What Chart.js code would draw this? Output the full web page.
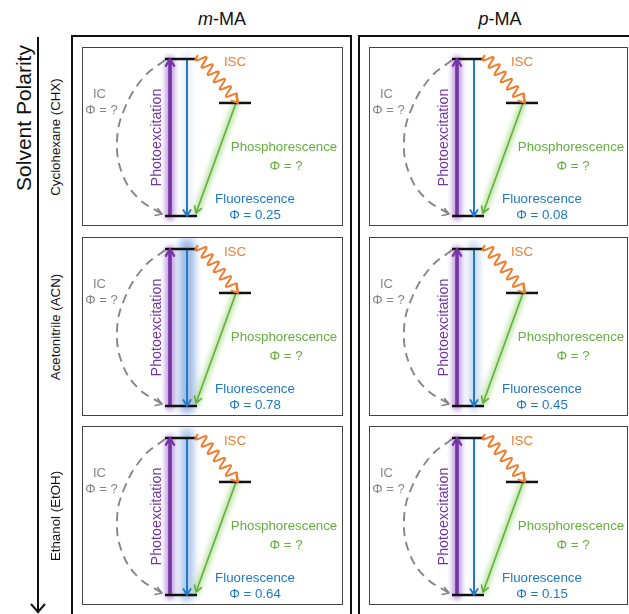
<!DOCTYPE html>
<html>
<head>
<meta charset="utf-8">
<script src="https://cdn.jsdelivr.net/npm/chart.js@4.4.0/dist/chart.umd.min.js"></script>
<style>
  body { margin: 0; width: 629px; height: 614px; overflow: hidden; background: #fff;
         font-family: "Liberation Sans", Arial, sans-serif; position: relative; }
  .abs { position: absolute; }
  .title { font-size: 18px; top: 9px; width: 120px; text-align: center; color: #111; }
  .rot { transform: translate(-50%, -50%) rotate(-90deg); white-space: nowrap; color: #111; }
  .outer { border: 2px solid #111; box-sizing: border-box; }
  .frame { border: 1.5px solid #444; box-sizing: border-box; pointer-events: none; }
  canvas { position: absolute; }
</style>
</head>
<body>
<div class="abs title" style="left:162px"><i>m</i>-MA</div>
<div class="abs title" style="left:440px"><i>p</i>-MA</div>
<div class="abs rot" style="left:24px; top:118px; font-size:21px">Solvent Polarity</div>
<svg class="abs" style="left:0; top:0" width="60" height="614">
  <line x1="38" y1="37" x2="38" y2="613" stroke="#111" stroke-width="2"/>
  <polyline points="31,604 38,612 45,604" fill="none" stroke="#111" stroke-width="2"/>
</svg>
<div class="abs outer" style="left:71px; top:35px; width:281px; height:600px"></div>
<div class="abs outer" style="left:358px; top:35px; width:300px; height:600px"></div>

<script>
// ---- data ----
const molecules = ['m-MA', 'p-MA'];
const solvents = ['Cyclohexane (CHX)', 'Acetonitrile (ACN)', 'Ethanol (EtOH)'];
const levelNames = ['S0', 'S1', 'T1'];
const levelEnergies = [0, 1, 0.72];
const fluorYieldM = [0.25, 0.78, 0.64];
const fluorYieldP = [0.08, 0.45, 0.15];
const yields = [fluorYieldM, fluorYieldP];

// ---- layout (panel pixels) ----
const PANEL_X = [82, 369], PANEL_W = [261, 259];
const PANEL_Y = [47, 237, 426], PANEL_H = 179;
const Y_S0 = 169, Y_S1 = 12;            // pixel rows of S0 / S1 inside a panel
const SX = [83, 115], TX = [137, 169];  // level line extents
const PHOTO_X = 88, FLUOR_X = 105;
const PHOS_X = [154, 114], PHOS_END_Y = 166;
const IC_PTS = [[83, 13], [61, 31], [42, 63], [35, 94], [40, 126], [56, 151], [80, 167]];

const PURPLE = '#7434a2', BLUE = '#1f78c8', GREEN = '#63ae3d', ORANGE = '#f07c2e', GRAY = '#858585';
const FONT = '"Liberation Sans", Arial, sans-serif';

function head(ctx, x, y, ang, size, color, width) {
  ctx.save();
  ctx.strokeStyle = color; ctx.lineWidth = width; ctx.lineCap = 'round'; ctx.lineJoin = 'round';
  ctx.beginPath();
  ctx.moveTo(x - size * Math.cos(ang - 0.55), y - size * Math.sin(ang - 0.55));
  ctx.lineTo(x, y);
  ctx.lineTo(x - size * Math.cos(ang + 0.55), y - size * Math.sin(ang + 0.55));
  ctx.stroke();
  ctx.restore();
}

function glow(ctx, a, b, color, width, blur) {
  ctx.save();
  ctx.filter = 'blur(' + blur + 'px)';
  ctx.strokeStyle = color; ctx.lineWidth = width; ctx.lineCap = 'round';
  ctx.beginPath(); ctx.moveTo(a[0], a[1]); ctx.lineTo(b[0], b[1]); ctx.stroke();
  ctx.restore();
}

function text(ctx, s, x, y, color, size) {
  ctx.fillStyle = color; ctx.font = size + 'px ' + FONT;
  ctx.textAlign = 'center'; ctx.textBaseline = 'middle';
  ctx.fillText(s, x, y);
}

function makePanel(col, row) {
  const w = PANEL_W[col], phi = yields[col][row];
  const cv = document.createElement('canvas');
  cv.width = w; cv.height = PANEL_H;
  cv.style.left = PANEL_X[col] + 'px'; cv.style.top = PANEL_Y[row] + 'px';
  cv.style.width = w + 'px'; cv.style.height = PANEL_H + 'px';
  document.body.appendChild(cv);
  const fr = document.createElement('div');
  fr.className = 'abs frame';
  fr.style.cssText = 'left:' + PANEL_X[col] + 'px;top:' + PANEL_Y[row] + 'px;width:' + w + 'px;height:' + PANEL_H + 'px';
  document.body.appendChild(fr);

  const perE = Y_S0 - Y_S1;
  const e = py => (Y_S0 - py) / perE;
  const [S0, S1, T1] = levelEnergies;
  const pt = p => ({ x: p[0], y: p[1] });
  const line = (pts, color, width, extra) => Object.assign({
    data: pts.map(pt), showLine: true, borderColor: color, borderWidth: width,
    pointRadius: 0, fill: false, tension: 0, borderCapStyle: 'butt'
  }, extra || {});

  const deco = {
    id: 'deco',
    beforeDatasetsDraw(chart) {
      const ctx = chart.ctx, xs = chart.scales.x, ys = chart.scales.y;
      const P = (x, E) => [xs.getPixelForValue(x), ys.getPixelForValue(E)];
      glow(ctx, P(PHOTO_X, S0), P(PHOTO_X, S1 - 0.01), 'rgba(150,90,200,0.55)', 10, 2.5);
      glow(ctx, P(FLUOR_X, S1 + 0.02), P(FLUOR_X, S0), 'rgba(90,140,215,' + (phi * 0.75) + ')', 3 + 17 * phi, 3.5);
      glow(ctx, P(PHOS_X[0], T1), P(PHOS_X[1], e(PHOS_END_Y)), 'rgba(130,205,90,0.5)', 7, 2.5);
    },
    afterDatasetsDraw(chart) {
      const ctx = chart.ctx, xs = chart.scales.x, ys = chart.scales.y;
      const P = (x, E) => [xs.getPixelForValue(x), ys.getPixelForValue(E)];
      // arrowheads
      let a = P(PHOTO_X, S1); head(ctx, a[0], a[1], -Math.PI / 2, 8, PURPLE, 2.2);
      a = P(FLUOR_X, S0); head(ctx, a[0], a[1], Math.PI / 2, 7, BLUE, 1.8);
      const g0 = P(PHOS_X[0], T1), g1 = P(PHOS_X[1], e(PHOS_END_Y));
      head(ctx, g1[0], g1[1], Math.atan2(g1[1] - g0[1], g1[0] - g0[0]), 7, GREEN, 1.6);
      const n = IC_PTS.length;
      const c0 = P(IC_PTS[n - 2][0], e(IC_PTS[n - 2][1])), c1 = P(IC_PTS[n - 1][0], e(IC_PTS[n - 1][1]));
      head(ctx, c1[0], c1[1], Math.atan2(c1[1] - c0[1], c1[0] - c0[0]) - 0.25, 7, GRAY, 1.7);
      // ISC wavy arrow
      const w0 = P(SX[1] + 1, S1 + 0.025), w1 = P(156, T1);
      const dx = w1[0] - w0[0], dy = w1[1] - w0[1], L = Math.hypot(dx, dy);
      const ux = dx / L, uy = dy / L, nx = -uy, ny = ux;
      ctx.save();
      ctx.strokeStyle = ORANGE; ctx.lineWidth = 2; ctx.lineJoin = 'round';
      ctx.beginPath();
      const waveLen = L - 6;
      for (let t = 0; t <= waveLen; t += 0.5) {
        const o = 5.2 * Math.sin(2 * Math.PI * t / 9.5);
        const x = w0[0] + ux * t + nx * o, y = w0[1] + uy * t + ny * o;
        if (t === 0) ctx.moveTo(x, y); else ctx.lineTo(x, y);
      }
      ctx.lineTo(w1[0], w1[1]);
      ctx.stroke();
      ctx.restore();
      head(ctx, w1[0], w1[1], Math.atan2(dy, dx), 7, ORANGE, 1.9);
      // labels
      text(ctx, 'IC', 17.5, 47, GRAY, 13);
      text(ctx, 'Φ = ?', 19.5, 63, GRAY, 13);
      text(ctx, 'ISC', 153, 15, ORANGE, 13.3);
      text(ctx, 'Phosphorescence', 202, 100, GREEN, 13.3);
      text(ctx, 'Φ = ?', 204, 119, GREEN, 13.3);
      text(ctx, 'Fluorescence', 173, 152, BLUE, 13.3);
      text(ctx, 'Φ = ' + phi.toFixed(2), 173, 168, BLUE, 13.3);
      ctx.save();
      ctx.translate(75, 90.5); ctx.rotate(-Math.PI / 2);
      text(ctx, 'Photoexcitation', 0, 0, PURPLE, 14.3);
      ctx.restore();
    }
  };

  new Chart(cv, {
    type: 'scatter',
    data: {
      datasets: [
        line([[SX[0], S0], [SX[1], S0]], '#111', 2.5, { order: 0, label: levelNames[0] }),
        line([[SX[0], S1], [SX[1], S1]], '#111', 2.5, { order: 0, label: levelNames[1] }),
        line([[TX[0], T1], [TX[1], T1]], '#111', 2.5, { order: 0, label: levelNames[2] }),
        line([[PHOTO_X, S0], [PHOTO_X, S1]], PURPLE, 3.6, { order: 1 }),
        line([[FLUOR_X, S1], [FLUOR_X, S0]], BLUE, 2, { order: 1 }),
        line([[PHOS_X[0], T1], [PHOS_X[1], e(PHOS_END_Y)]], GREEN, 1.6, { order: 1 }),
        line(IC_PTS.map(p => [p[0], e(p[1])]), GRAY, 1.9, { order: 1, tension: 0.4, borderDash: [9, 6] })
      ]
    },
    options: {
      responsive: false, animation: false, events: [],
      layout: { padding: 0, autoPadding: false },
      plugins: { legend: { display: false }, tooltip: { enabled: false } },
      scales: {
        x: { type: 'linear', display: false, min: 0, max: w },
        y: { type: 'linear', display: false, min: e(PANEL_H), max: e(0) }
      }
    },
    plugins: [deco]
  });
}

molecules.forEach((m, col) => solvents.forEach((s, row) => makePanel(col, row)));

const rowCenters = PANEL_Y.map(y => y + PANEL_H / 2);
solvents.forEach((s, row) => {
  const d = document.createElement('div');
  d.className = 'abs rot';
  d.style.cssText = 'left:55px;top:' + rowCenters[row] + 'px;font-size:13.3px';
  d.textContent = s;
  document.body.appendChild(d);
});
</script>
</body>
</html>
